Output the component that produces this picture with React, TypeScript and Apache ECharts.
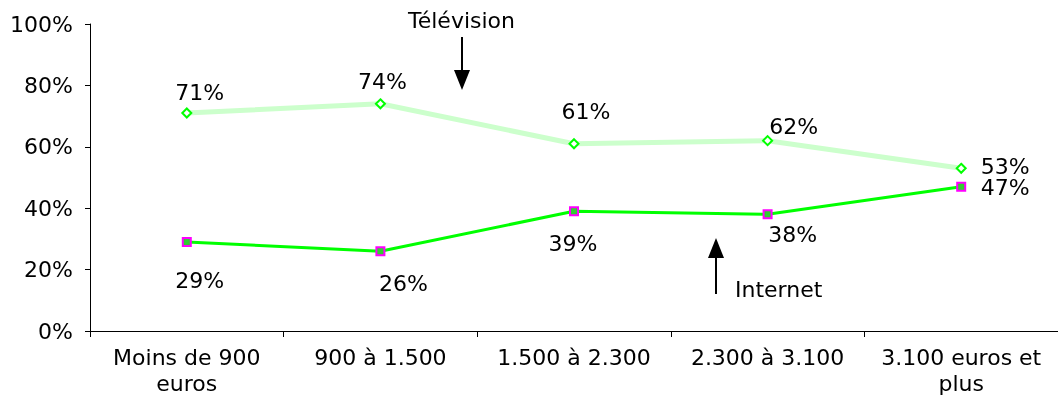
import React, { useEffect, useRef } from "react";
import * as echarts from "echarts";

const categories = ["Moins de 900\neuros", "900 à 1.500", "1.500 à 2.300", "2.300 à 3.100", "3.100 euros et\nplus"];
const television = [71, 74, 61, 62, 53];
const internet = [29, 26, 39, 38, 47];
const yTicks = [0, 20, 40, 60, 80, 100];
const tvOffsets = [[13, -21], [2, -22], [12, -32], [26, -14], [44, -2]];
const netOffsets = [[13, 39], [23, 32], [-1, 32], [25, 20], [44, 1]];

const FONT = "DejaVu Sans";
const FS = 22;

export default function App() {
  const ref = useRef<HTMLDivElement>(null);
  useEffect(() => {
    const chart = echarts.init(ref.current!, null, { renderer: "svg" });
    const lab = (offs: number[][]) => (v: number, i: number) => ({
      value: v,
      label: { show: true, position: "inside", offset: offs[i], formatter: "{c}%", color: "#000", fontFamily: FONT, fontSize: FS, lineHeight: 20 },
    });
    chart.setOption({
      animation: false,
      grid: { left: 90, right: -2, top: 24, bottom: 72 },
      xAxis: {
        type: "category",
        data: categories,
        boundaryGap: true,
        axisLine: { lineStyle: { color: "#000", width: 1 } },
        axisTick: { show: true, length: 6, alignWithLabel: false, lineStyle: { color: "#000" } },
        axisLabel: { color: "#000", fontFamily: FONT, fontSize: FS, margin: 13, lineHeight: 26, interval: 0 },
      },
      yAxis: {
        type: "value",
        min: yTicks[0],
        max: yTicks[yTicks.length - 1],
        interval: 20,
        axisLine: { show: true, lineStyle: { color: "#000", width: 1 } },
        axisTick: { show: true, length: 5, lineStyle: { color: "#000" } },
        splitLine: { show: false },
        axisLabel: { color: "#000", fontFamily: FONT, fontSize: FS, margin: 17, formatter: "{value}%" },
      },
      series: [
        {
          name: "Télévision",
          type: "line",
          data: television.map(lab(tvOffsets)),
          symbol: "diamond",
          symbolSize: 9,
          showAllSymbol: true,
          lineStyle: { color: "#ccffcc", width: 5 },
          itemStyle: { color: "#ffffff", borderColor: "#00ff00", borderWidth: 2 },
          z: 2,
        },
        {
          name: "Internet",
          type: "line",
          data: internet.map(lab(netOffsets)),
          symbol: "rect",
          symbolSize: 8,
          showAllSymbol: true,
          lineStyle: { color: "#00ff00", width: 3 },
          itemStyle: { color: "#33cc33", borderColor: "#ff00ff", borderWidth: 2 },
          z: 3,
        },
      ],
      graphic: [
        { type: "text", left: 408, top: 9, style: { text: "Télévision", fill: "#000", font: `${FS}px '${FONT}'` } },
        { type: "line", shape: { x1: 462, y1: 37, x2: 462, y2: 72 }, style: { stroke: "#000", lineWidth: 2 } },
        { type: "polygon", shape: { points: [[454, 70], [470, 70], [462, 90]] }, style: { fill: "#000" } },
        { type: "text", left: 735, top: 278, style: { text: "Internet", fill: "#000", font: `${FS}px '${FONT}'` } },
        { type: "line", shape: { x1: 716, y1: 294, x2: 716, y2: 256 }, style: { stroke: "#000", lineWidth: 2 } },
        { type: "polygon", shape: { points: [[708, 258], [724, 258], [716, 238]] }, style: { fill: "#000" } },
      ],
    });
    return () => chart.dispose();
  }, []);
  return <div ref={ref} style={{ position: "fixed", left: 0, top: 0, width: 1058, height: 403 }} />;
}
